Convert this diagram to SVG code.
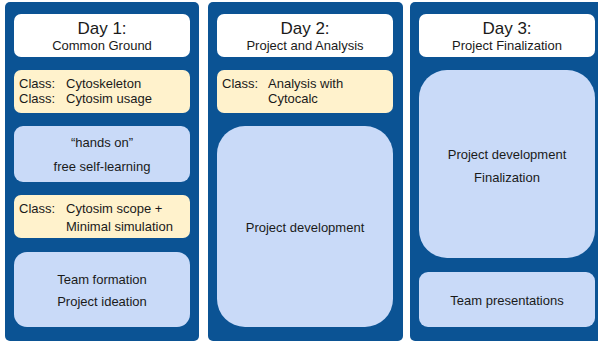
<svg xmlns="http://www.w3.org/2000/svg" width="598" height="343" viewBox="0 0 598 343">
<style>
.panel{fill:#0b5394}
.head{fill:#ffffff}
.cls{fill:#fff2cc}
.act{fill:#c9daf8}
text{font-family:"Liberation Sans",Arial,sans-serif;fill:#1a1a1a}
.t16{font-size:17px}
.t13{font-size:13px}
.c{text-anchor:middle}
</style>
<rect width="598" height="343" fill="#ffffff"/>
<g id="panel1">
<rect class="panel" x="5" y="2" width="194" height="339" rx="5"/>
</g>
<g id="panel2">
<rect class="panel" x="208" y="2" width="195" height="339" rx="5"/>
</g>
<g id="panel3">
<rect class="panel" x="410" y="2" width="194" height="339" rx="5"/>
</g>
<g id="day1-head">
<rect class="head" x="14" y="14" width="176" height="43" rx="7"/>
<text class="t16 c" x="102" y="34">Day 1:</text>
<text class="t13 c" x="102" y="50">Common Ground</text>
</g>
<g id="day1-class1">
<rect class="cls" x="14" y="70" width="176" height="43" rx="7"/>
<text class="t13" x="19" y="88">Class:</text>
<text class="t13" x="66" y="88">Cytoskeleton</text>
<text class="t13" x="19" y="103">Class:</text>
<text class="t13" x="66" y="103">Cytosim usage</text>
</g>
<g id="day1-handson">
<rect class="act" x="14" y="126" width="176" height="56" rx="9"/>
<text class="t13 c" x="102" y="147">“hands on”</text>
<text class="t13 c" x="102" y="171">free self-learning</text>
</g>
<g id="day1-class2">
<rect class="cls" x="14" y="195" width="176" height="43" rx="7"/>
<text class="t13" x="19" y="213">Class:</text>
<text class="t13" x="66" y="213">Cytosim scope +</text>
<text class="t13" x="66" y="231">Minimal simulation</text>
</g>
<g id="day1-team">
<rect class="act" x="14" y="252" width="176" height="75" rx="13"/>
<text class="t13 c" x="102" y="284">Team formation</text>
<text class="t13 c" x="102" y="306">Project ideation</text>
</g>
<g id="day2-head">
<rect class="head" x="217" y="14" width="176" height="43" rx="7"/>
<text class="t16 c" x="305" y="34">Day 2:</text>
<text class="t13 c" x="305" y="50">Project and Analysis</text>
</g>
<g id="day2-class">
<rect class="cls" x="217" y="70" width="176" height="43" rx="7"/>
<text class="t13" x="222" y="88">Class:</text>
<text class="t13" x="268" y="88">Analysis with</text>
<text class="t13" x="268" y="103">Cytocalc</text>
</g>
<g id="day2-dev">
<rect class="act" x="217" y="126" width="176" height="201" rx="28"/>
<text class="t13 c" x="305" y="232">Project development</text>
</g>
<g id="day3-head">
<rect class="head" x="419" y="14" width="176" height="43" rx="7"/>
<text class="t16 c" x="507" y="34">Day 3:</text>
<text class="t13 c" x="507" y="50">Project Finalization</text>
</g>
<g id="day3-dev">
<rect class="act" x="419" y="70" width="176" height="188" rx="28"/>
<text class="t13 c" x="507" y="159">Project development</text>
<text class="t13 c" x="507" y="182">Finalization</text>
</g>
<g id="day3-pres">
<rect class="act" x="419" y="272" width="176" height="55" rx="9"/>
<text class="t13 c" x="507" y="305">Team presentations</text>
</g>
<g id="connectors"></g>
</svg>
